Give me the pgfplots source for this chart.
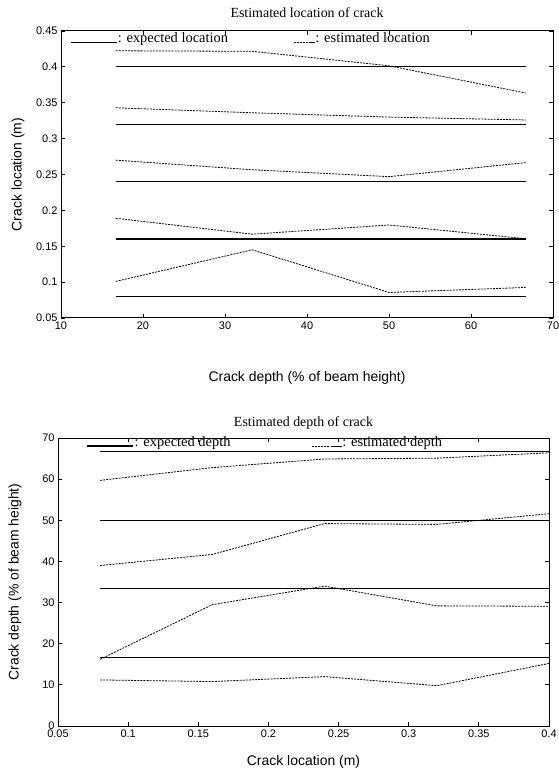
\documentclass[border=0pt]{standalone}
\usepackage{fontspec}
\setmainfont{Liberation Serif}
\setsansfont{Liberation Sans}
\usepackage{pgfplots}
\pgfplotsset{compat=1.18}

% expected (true) values are solid, estimated values dashed
\pgfplotsset{
  crack/.style={
    scale only axis, anchor=south west, clip=false,
    tick align=inside, major tick length=4bp,
    axis line style={line width=1bp},
    every tick/.style={black, line width=0.8bp},
    /pgf/number format/assume math mode=true,
    tick label style={font=\sffamily\fontsize{11}{13}\selectfont},
    label style={font=\sffamily\fontsize{14}{16}\selectfont},
    title style={font=\fontsize{14}{16}\selectfont, anchor=base},
  },
}
\tikzset{
  expected/.style={black, line width=1.2bp},
  estimated/.style={black, line width=0.8bp, dash pattern=on 2bp off 1.1bp},
  leg/.style={font=\fontsize{14.5}{16}\selectfont, anchor=base west, inner sep=0pt},
}

\begin{document}
\begin{tikzpicture}
\useasboundingbox (0bp,0bp) rectangle (559bp,773bp);

% ---------- top: estimated location ----------
\begin{axis}[crack,
  at={(61bp,455bp)}, width=492bp, height=287bp,
  xmin=10, xmax=70, ymin=0.05, ymax=0.45,
  xtick={10,20,...,70},
  ytick={0.05,0.1,0.15,0.2,0.25,0.3,0.35,0.4,0.45},
  yticklabel style={/pgf/number format/fixed, /pgf/number format/precision=2},
  title={Estimated location of crack},
  title style={at={([yshift=8bp]axis description cs:0.5,1)}},
  xlabel={Crack depth (\% of beam height)},
  xlabel style={at={([yshift=-60bp]axis description cs:0.5,0)}, anchor=center},
  ylabel={Crack location (m)},
  ylabel style={at={([xshift=-43bp]axis description cs:0,0.5)}, anchor=center},
]
\addplot[expected] coordinates {(16.67,0.08) (33.33,0.08) (50,0.08) (66.67,0.08)};
\addplot[expected] coordinates {(16.67,0.16) (33.33,0.16) (50,0.16) (66.67,0.16)};
\addplot[expected] coordinates {(16.67,0.24) (33.33,0.24) (50,0.24) (66.67,0.24)};
\addplot[expected] coordinates {(16.67,0.32) (33.33,0.32) (50,0.32) (66.67,0.32)};
\addplot[expected] coordinates {(16.67,0.40) (33.33,0.40) (50,0.40) (66.67,0.40)};
\addplot[estimated] coordinates {(16.67,0.101) (33.33,0.145) (50,0.0856) (66.67,0.0926)};
\addplot[estimated] coordinates {(16.67,0.189) (33.33,0.1668) (50,0.1796) (66.67,0.1605)};
\addplot[estimated] coordinates {(16.67,0.270) (33.33,0.2566) (50,0.247) (66.67,0.2666)};
\addplot[estimated] coordinates {(16.67,0.343) (33.33,0.336) (50,0.330) (66.67,0.326)};
\addplot[estimated] coordinates {(16.67,0.4224) (33.33,0.4217) (50,0.4015) (66.67,0.3636)};
% legend written on the plot
\draw[expected] (axis cs:11.2,0.4337) -- (axis cs:16.8,0.4337);
\node[leg] at (axis cs:16.9,0.4337) {: expected location};
\draw[estimated] (axis cs:38.4,0.4337) -- (axis cs:40.2,0.4337);
\draw[expected, line width=0.8bp] (axis cs:40.2,0.4337) -- (axis cs:41.0,0.4337);
\node[leg] at (axis cs:41.0,0.4337) {: estimated location};
\end{axis}

% ---------- bottom: estimated depth ----------
\begin{axis}[crack,
  at={(58bp,47bp)}, width=491bp, height=288bp,
  xmin=0.05, xmax=0.4, ymin=0, ymax=70,
  xtick={0.05,0.1,0.15,0.2,0.25,0.3,0.35,0.4},
  ytick={0,10,...,70},
  xticklabel style={/pgf/number format/fixed, /pgf/number format/precision=2},
  title={Estimated depth of crack},
  title style={at={([yshift=6bp]axis description cs:0.5,1)}},
  xlabel={Crack location (m)},
  xlabel style={at={([yshift=-36bp]axis description cs:0.5,0)}, anchor=center},
  ylabel={Crack depth (\% of beam height)},
  ylabel style={at={([xshift=-43bp]axis description cs:0,0.5)}, anchor=center},
]
\addplot[expected] coordinates {(0.08,16.67) (0.16,16.67) (0.24,16.67) (0.32,16.67) (0.4,16.67)};
\addplot[expected] coordinates {(0.08,33.33) (0.16,33.33) (0.24,33.33) (0.32,33.33) (0.4,33.33)};
\addplot[expected] coordinates {(0.08,50) (0.16,50) (0.24,50) (0.32,50) (0.4,50)};
\addplot[expected] coordinates {(0.08,66.67) (0.16,66.67) (0.24,66.67) (0.32,66.67) (0.4,66.67)};
\addplot[estimated] coordinates {(0.08,11.2) (0.16,10.8) (0.24,12.0) (0.32,9.8) (0.4,15.2)};
\addplot[estimated] coordinates {(0.08,16.2) (0.16,29.5) (0.24,34.0) (0.32,29.2) (0.4,29.1)};
\addplot[estimated] coordinates {(0.08,39.0) (0.16,41.7) (0.24,49.2) (0.32,49.0) (0.4,51.6)};
\addplot[estimated] coordinates {(0.08,59.7) (0.16,62.8) (0.24,64.9) (0.32,65.1) (0.4,66.4)};
% legend written on the plot
\draw[expected] (axis cs:0.0705,68.05) -- (axis cs:0.1037,68.05);
\node[leg] at (axis cs:0.1045,68.05) {: expected depth};
\draw[estimated] (axis cs:0.231,68.05) -- (axis cs:0.245,68.05);
\draw[expected, line width=0.8bp] (axis cs:0.245,68.05) -- (axis cs:0.2525,68.05);
\node[leg] at (axis cs:0.2525,68.05) {: estimated depth};
\end{axis}
\end{tikzpicture}
\end{document}
